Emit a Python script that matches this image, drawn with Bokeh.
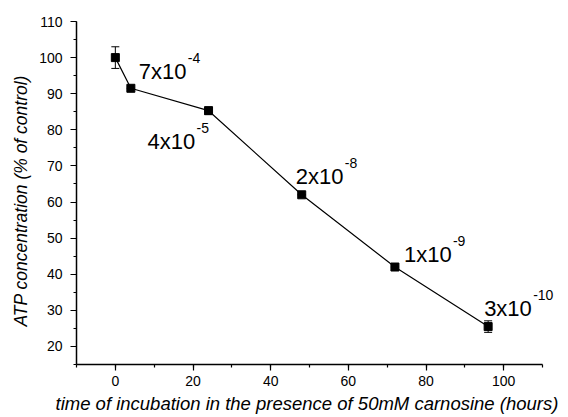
from bokeh.plotting import figure
from bokeh.models import (ColumnDataSource, Whisker, TeeHead, LabelSet, Title,
                          SingleIntervalTicker, Range1d)
from bokeh.core.properties import value
from bokeh.embed import file_html
from bokeh.resources import INLINE

# ---- data ----
hours = [0, 4, 24, 48, 72, 96]
atp = [100.0, 91.5, 85.3, 62.0, 42.0, 25.5]
atp_err = [3.0, 0.0, 1.0, 0.0, 0.0, 1.6]

label_base = ["7x10", "4x10", "2x10", "1x10", "3x10"]
label_exp = ["-4", "-5", "-8", "-9", "-10"]

x_title = "time of incubation in the presence of 50mM carnosine (hours)"
y_title = "ATP concentration (% of control)"

X_MIN, X_MAX = -10, 110
Y_MIN, Y_MAX = 15, 110

# ---- layout / style ----
W, H = 568, 417
LEFT, TOP, AXIS_RIGHT, BOTTOM = 76, 21, 542, 364   # pixel positions of the axes
px_per_x = (AXIS_RIGHT - LEFT) / (X_MAX - X_MIN)
x_extra = (W - AXIS_RIGHT) / px_per_x              # room so labels are not clipped

base_dx = [8, -61, -6, 9, -4]
base_dy = [9, -38, 11, 5, 11]
SUP_DX = 49
SUP_DY = 16

FONT = "Liberation Sans"

p = figure(width=W, height=H, output_backend="svg", toolbar_location=None,
           x_range=Range1d(X_MIN, X_MAX + x_extra), y_range=Range1d(Y_MIN, Y_MAX),
           min_border_left=LEFT, min_border_right=0, min_border_top=TOP,
           min_border_bottom=H - BOTTOM)
p.outline_line_color = None
p.xgrid.visible = False
p.ygrid.visible = False
p.background_fill_color = "white"
p.border_fill_color = "white"

# axes
p.xaxis.ticker = SingleIntervalTicker(interval=20, num_minor_ticks=2)
p.yaxis.ticker = SingleIntervalTicker(interval=10, num_minor_ticks=2)
p.xaxis.bounds = (X_MIN, X_MAX)
for ax in (p.xaxis[0], p.yaxis[0]):
    ax.axis_line_width = 1.5
    ax.axis_line_color = "black"
    ax.major_tick_line_color = "black"
    ax.minor_tick_line_color = "black"
    ax.major_tick_line_width = 1.2
    ax.minor_tick_line_width = 1.2
    ax.major_tick_out = 6
    ax.major_tick_in = 0
    ax.minor_tick_out = 3
    ax.minor_tick_in = 0
    ax.major_label_text_font = FONT
    ax.major_label_text_font_size = "14px"
    ax.major_label_text_color = "black"
p.yaxis.major_label_standoff = 8
p.xaxis.major_label_standoff = 5

# axis titles as side titles, placed like in the reference
xt = Title(text=x_title, align="left", offset=-21,
           text_font=FONT, text_font_style="italic", text_font_size="18.5px",
           text_color="black")
yt = Title(text=y_title, align="left", offset=38,
           text_font=FONT, text_font_style="italic", text_font_size="17.5px",
           text_color="black")
if "standoff" in Title.properties():
    xt.standoff = 4
    yt.standoff = 11
p.add_layout(xt, "below")
p.add_layout(yt, "left")

# error bars
src = ColumnDataSource(data=dict(
    x=hours, y=atp,
    upper=[a + e for a, e in zip(atp, atp_err)],
    lower=[a - e for a, e in zip(atp, atp_err)],
))
p.add_layout(Whisker(source=src, base="x", upper="upper", lower="lower",
                     line_color="black", line_width=1,
                     upper_head=TeeHead(size=8, line_color="black", line_width=1),
                     lower_head=TeeHead(size=8, line_color="black", line_width=1)))

p.line("x", "y", source=src, line_color="black", line_width=1.2)
p.scatter("x", "y", source=src, marker="square", size=8,
          fill_color="black", line_color="black")

# concentration labels
lab = ColumnDataSource(data=dict(
    x=hours[1:], y=atp[1:], base=label_base, exp=label_exp,
    bdx=base_dx, bdy=base_dy,
    sdx=[d + SUP_DX for d in base_dx], sdy=[d + SUP_DY for d in base_dy],
))
p.add_layout(LabelSet(source=lab, x="x", y="y", text="base",
                      x_offset="bdx", y_offset="bdy",
                      text_align="left", text_baseline="alphabetic",
                      text_font=value(FONT), text_font_size=value("22px"),
                      text_color="black"))
p.add_layout(LabelSet(source=lab, x="x", y="y", text="exp",
                      x_offset="sdx", y_offset="sdy",
                      text_align="left", text_baseline="alphabetic",
                      text_font=value(FONT), text_font_size=value("14px"),
                      text_color="black"))

open("out.html", "w").write(file_html(p, INLINE))
